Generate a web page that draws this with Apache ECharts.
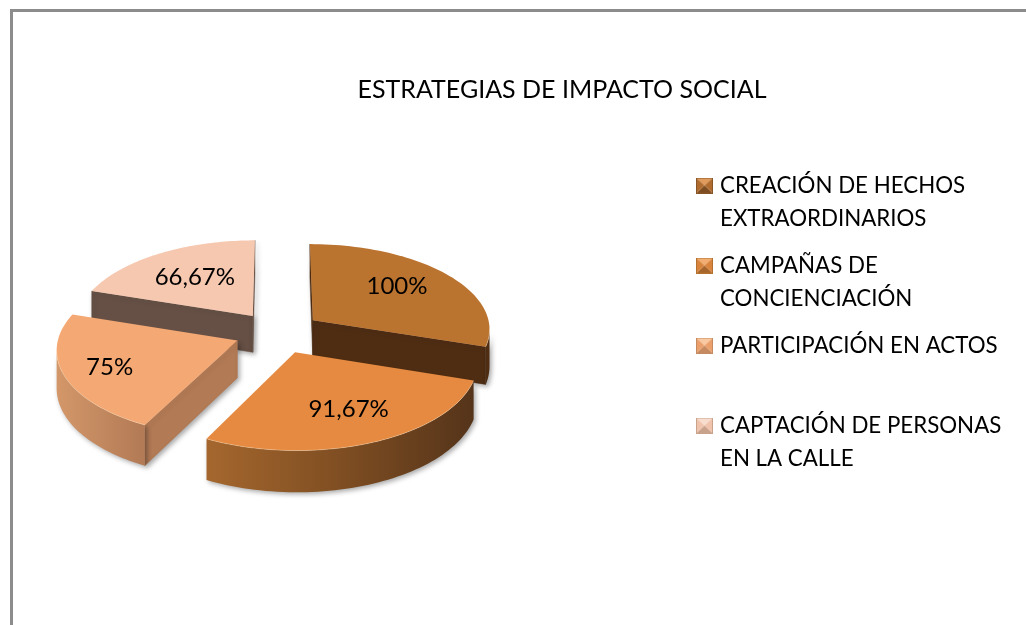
<!DOCTYPE html>
<html><head><meta charset="utf-8">
<style>html,body{margin:0;padding:0;background:#fff}#c{width:1026px;height:625px}</style>
<script src="https://cdn.jsdelivr.net/npm/echarts@6/dist/echarts.min.js"></script>
</head><body><div id="c"></div>
<script>
const titleText = 'ESTRATEGIAS DE IMPACTO SOCIAL';
const categories = ['CREACIÓN DE HECHOS\nEXTRAORDINARIOS','CAMPAÑAS DE\nCONCIENCIACIÓN','PARTICIPACIÓN EN ACTOS','CAPTACIÓN DE PERSONAS\nEN LA CALLE'];
const values = [100, 91.67, 75, 66.67];
const valueLabels = ['100%','91,67%','75%','66,67%'];

const topColors = ['#bb7330','#e58a40','#f4a873','#f6c8b0'];
const wallColors = ['#4e2d13','#5a3418','#b27a55','#665045'];
const rimStops = [
  [['#4e2d13',0],['#4e2d13',1]],
  [['#a5672e',0],['#7f4e22',.5],['#55341a',1]],
  [['#d39769',0],['#b27a55',1]],
  [['#665045',0],['#665045',1]]
];
const zOrder = [2,4,3,1];
const labelRadius = [.62,.62,.8,.6];
const labelNudge = [[0,-5],[7,3],[10,-1],[0,0]];
const icons = [['#e09a5c','#b06c2e','#7d4c20','#8a5526'],['#f2ae72','#d9843c','#a5652c','#b5702f'],['#f9c9a2','#eba06c','#c58a5f','#c58a5f'],['#f7ddce','#f0c4ac','#c9a28c','#c9a28c']];

const total = values.reduce((a,b)=>a+b,0);
const P = {cx:278, cy:332.5, a:178, b:85.4, k:.092, e:.245, depth:37};
function project(u,v){ const d=1-P.k*v; return [P.cx+u*P.a/d, P.cy+v*P.b/d, P.depth/d]; }
function polar(t,r,ox,oy){ return [ox+r*Math.sin(t), oy-r*Math.cos(t)]; }

function makeRender(i){
  return function(params,api){
    const val = api.value(0);
    let s=0; for(let j=0;j<i;j++) s+=values[j];
    const t0=s/total*2*Math.PI, t1=t0+val/total*2*Math.PI, mid=(t0+t1)/2;
    const ox=P.e*Math.sin(mid), oy=-P.e*Math.cos(mid);
    const apex=project(ox,oy);
    const arc=[]; const n=60;
    for(let j=0;j<=n;j++){ const q=polar(t0+(t1-t0)*j/n,1,ox,oy); arc.push(project(q[0],q[1])); }
    const xy=p=>[p[0],p[1]], dn=p=>[p[0],p[1]+p[2]];
    const kids=[];
    const outline=[apex,...arc];
    const shadow={shadowBlur:5,shadowColor:'rgba(0,0,0,.35)',shadowOffsetX:2,shadowOffsetY:2};
    const wall=(a,b)=>{ if(b[0]<a[0]) kids.push({type:'polygon',shape:{points:[xy(a),xy(b),dn(b),dn(a)]},style:{fill:wallColors[i],stroke:wallColors[i],lineWidth:.5,...shadow}}); };
    wall(apex,arc[0]);
    wall(arc[n],apex);
    const vis=[];
    for(let j=0;j<=n;j++){ if((j<n&&arc[j+1][0]<arc[j][0])||(j>0&&arc[j][0]<arc[j-1][0])) vis.push(arc[j]); }
    if(vis.length>1){
      const stops=rimStops[i].map(x=>({color:x[0],offset:x[1]}));
      const fill=new echarts.graphic.LinearGradient(0,0,1,0,stops);
      kids.push({type:'polygon',shape:{points:[...vis.map(xy),...vis.slice().reverse().map(dn)]},style:{fill,...shadow}});
    }
    kids.push({type:'polygon',shape:{points:outline.map(xy)},style:{fill:topColors[i]}});
    if(vis.length>1) kids.push({type:'polyline',shape:{points:vis.map(xy)},style:{fill:null,stroke:'rgba(255,225,190,.35)',lineWidth:1}});
    const q=polar(mid,labelRadius[i],ox,oy), L=project(q[0],q[1]);
    kids.push({type:'text',style:{text:valueLabels[i],x:L[0]+labelNudge[i][0],y:L[1]+labelNudge[i][1],align:'center',verticalAlign:'middle',font:'24px Lato',fill:'#000'}});
    return {type:'group',children:kids};
  };
}

function iconUrl(c){
  const cv=document.createElement('canvas'); cv.width=17; cv.height=16;
  const g=cv.getContext('2d'); const W=17,H=16,m=[8.5,8];
  const tri=(a,b,col)=>{g.fillStyle=col;g.beginPath();g.moveTo(a[0],a[1]);g.lineTo(b[0],b[1]);g.lineTo(m[0],m[1]);g.closePath();g.fill();};
  tri([0,0],[W,0],c[0]); tri([0,H],[W,H],c[2]); tri([0,0],[0,H],c[1]); tri([W,0],[W,H],c[1]);
  g.strokeStyle=c[3]; g.lineWidth=1; g.strokeRect(.5,.5,W-1,H-1);
  return 'image://'+cv.toDataURL();
}

const label = s => { const p=s.split('\n'); return p.length>1 ? '\n'+p[0]+'\n'+p[1] : '\n'+s+'\n '; };

const chart = echarts.init(document.getElementById('c'),null,{renderer:'canvas'});
chart.setOption({
  animation:false,
  backgroundColor:'#fff',
  title:{text:titleText,left:557,top:72,textAlign:'center',textStyle:{fontFamily:'Lato',fontWeight:'normal',fontSize:25,color:'#000'}},
  legend:{orient:'vertical',left:691,top:131,itemWidth:17,itemHeight:16,itemGap:-19,selectedMode:false,
    formatter:label,
    textStyle:{fontFamily:'Lato',fontSize:22.3,lineHeight:33,color:'#000',padding:[0,0,0,2]},
    data:categories.map((n,i)=>({name:n,icon:iconUrl(icons[i])}))},
  graphic:[{type:'polyline',shape:{points:[[11.5,625],[11.5,10.5],[1026,10.5]]},style:{fill:null,stroke:'#8c8c8c',lineWidth:3}}],
  series:categories.map((n,i)=>({type:'custom',name:n,coordinateSystem:'none',z:zOrder[i],renderItem:makeRender(i),data:[[values[i]]],itemStyle:{color:topColors[i]}}))
});
</script></body></html>
